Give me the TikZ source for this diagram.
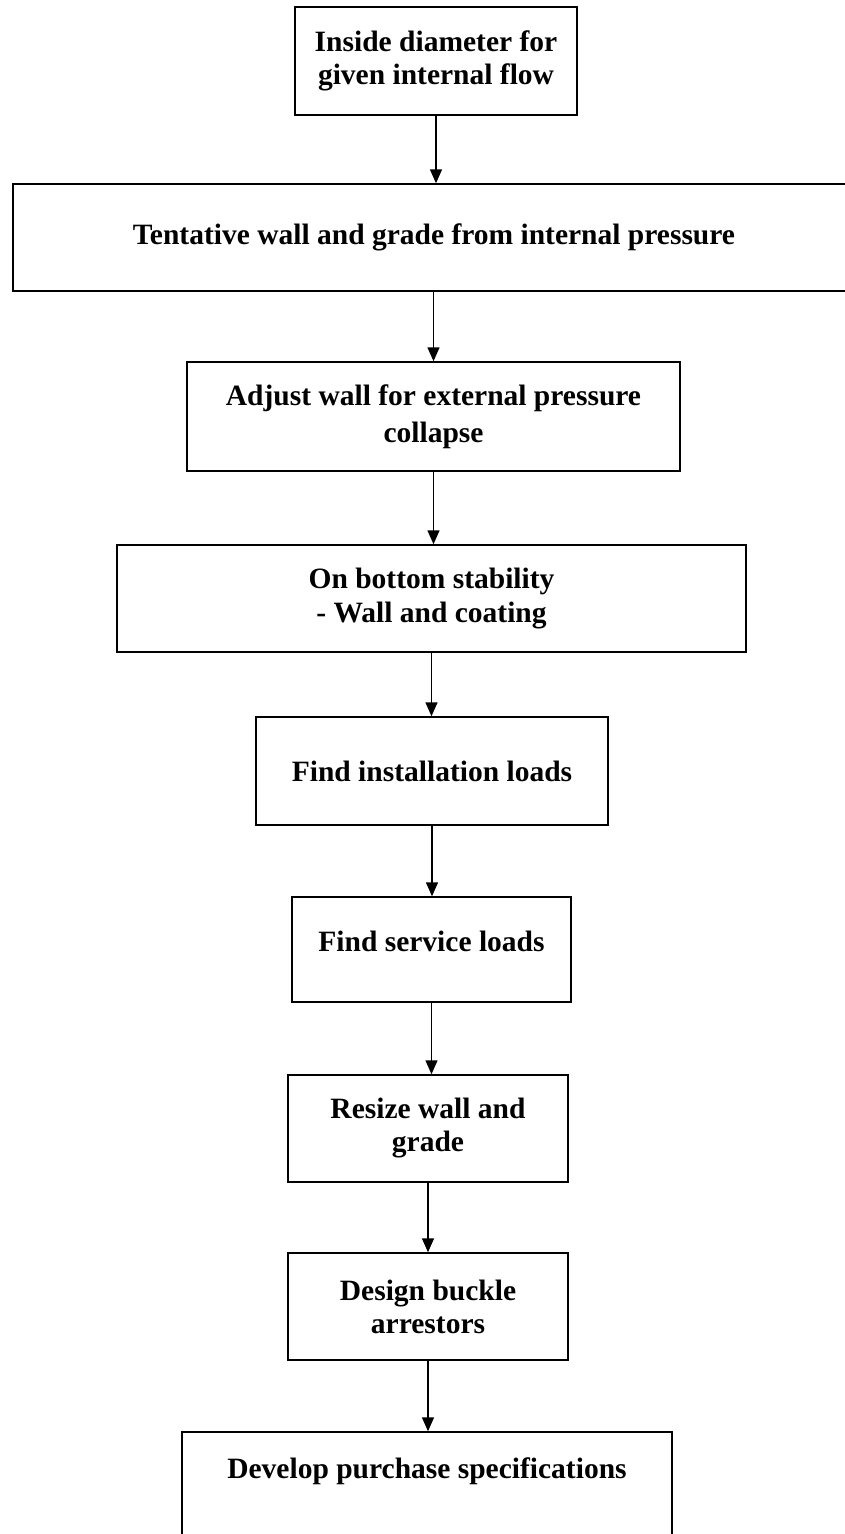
\documentclass[tikz,border=0pt]{standalone}
\usepackage{fontspec}
\setmainfont{Liberation Serif}
\usetikzlibrary{arrows.meta}
\begin{document}
\begin{tikzpicture}[x=1pt,y=-1pt,
  box/.style={draw=black, line width=1.5pt, inner sep=0pt, align=center,
    font=\fontsize{29.5}{33}\selectfont\bfseries},
  flow/.style={line width=1.5pt, -{Triangle[length=14pt,width=12pt]}},
  txt/.style={font=\fontsize{29.5}{33}\selectfont\bfseries, align=center}]
\useasboundingbox (0,0) rectangle (845,1534);
\clip (0,0) rectangle (845,1534);
\fill[white] (0,0) rectangle (845,1534);
\node[box, minimum width=282pt, minimum height=108pt] (b1) at (436,61) {Inside diameter for\\given internal flow};
\node[box, minimum width=842pt, minimum height=107pt] (b2) at (434,237.5) {Tentative wall and grade from internal pressure};
\node[box, minimum width=493pt, minimum height=109pt] (b3) at (433.5,416.5) {Adjust wall for external pressure\\[4pt]collapse};
\node[box, minimum width=629pt, minimum height=107pt] (b4) at (431.5,598.5) {On bottom stability\\[1pt]- Wall and coating};
\node[box, minimum width=352pt, minimum height=108pt] (b5) at (432,771) {Find installation loads};
\node[box, minimum width=279pt, minimum height=105pt] (b6) at (431.5,949.5) {};
\node[txt] (t6) at (431.5,941) {Find service loads};
\node[box, minimum width=280pt, minimum height=107pt] (b7) at (428,1128.5) {Resize wall and\\grade};
\node[box, minimum width=280pt, minimum height=107pt] (b8) at (428,1306.5) {Design buckle\\arrestors};
\node[box, minimum width=490pt, minimum height=108pt] (b9) at (427,1486) {};
\node[txt] (t9) at (427,1471) {Develop purchase specifications};
\draw[flow] (b1.south) -- (b1.south |- b2.north);
\draw[flow] (b2.south -| b3.north) -- (b3.north);
\draw[flow] (b3.south) -- (b3.south |- b4.north);
\draw[flow] (b4.south) -- (b4.south |- b5.north);
\draw[flow] (b5.south) -- (b5.south |- b6.north);
\draw[flow] (b6.south) -- (b6.south |- b7.north);
\draw[flow] (b7.south) -- (b7.south |- b8.north);
\draw[flow] (b8.south) -- (b8.south |- b9.north);
\end{tikzpicture}
\end{document}
